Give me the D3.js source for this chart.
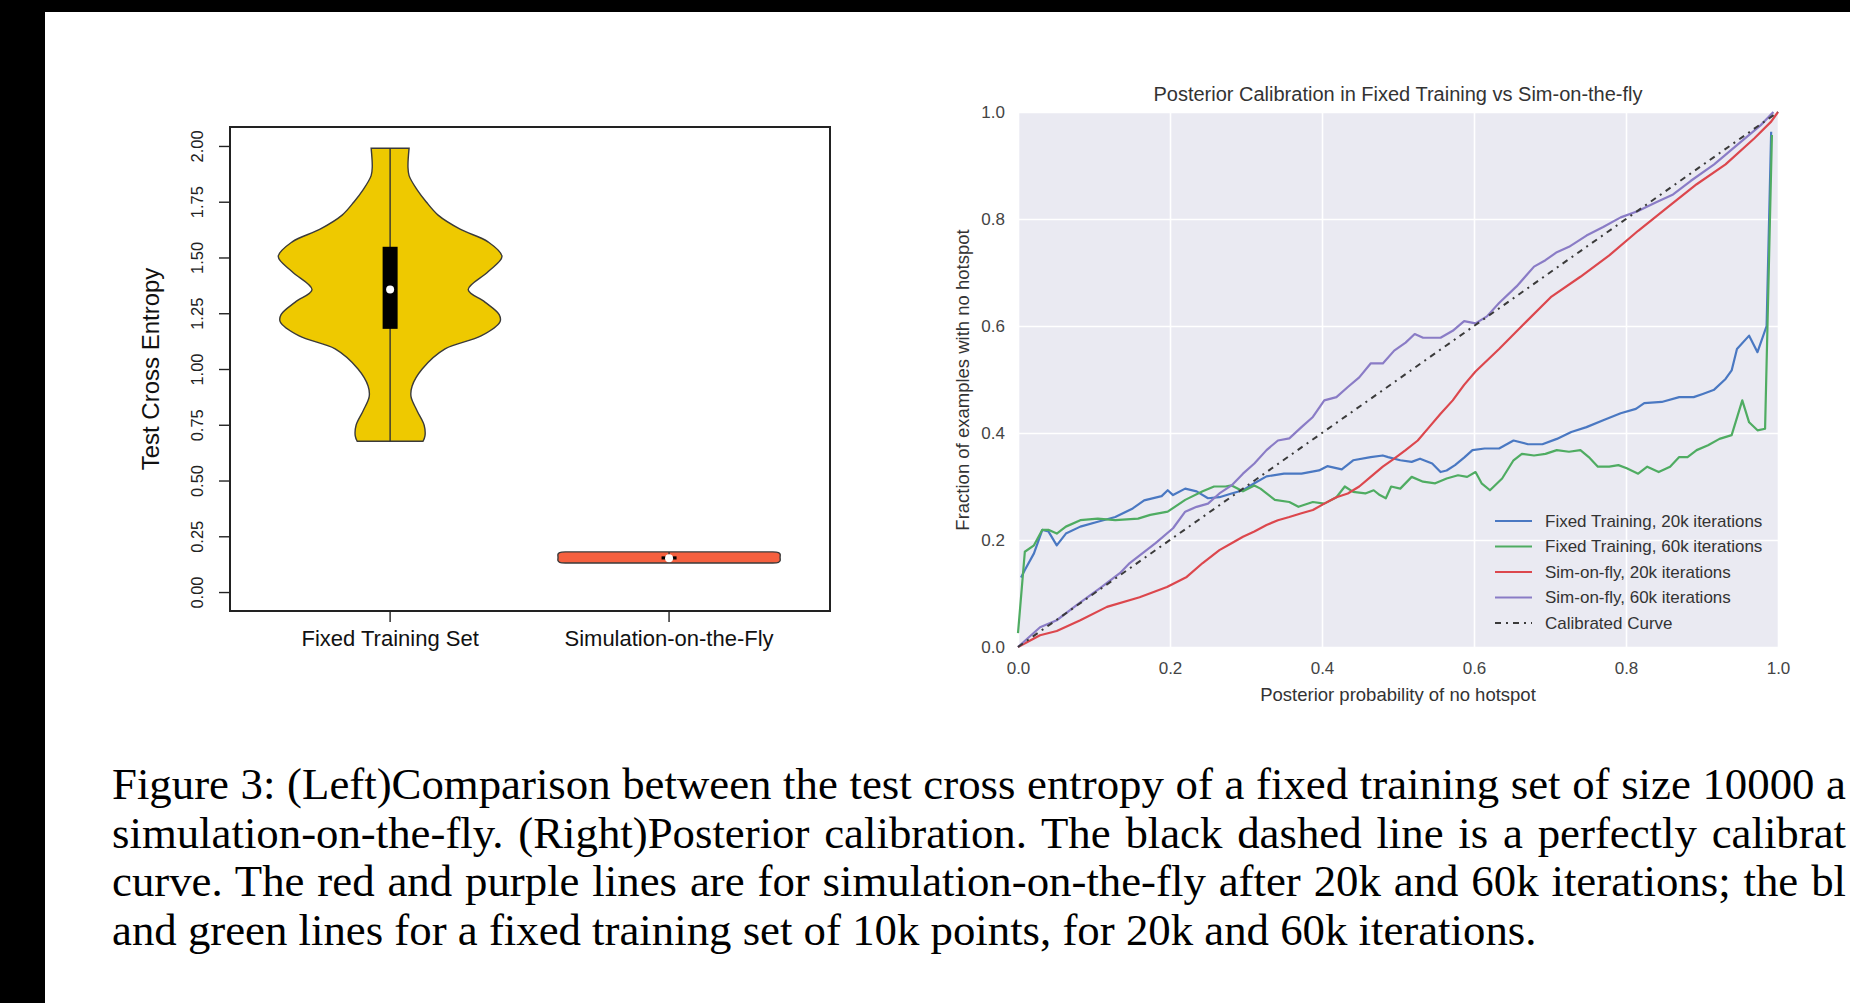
<!DOCTYPE html>
<html>
<head>
<meta charset="utf-8">
<script src="https://cdn.jsdelivr.net/npm/d3@7"></script>
<style>
  body { margin: 0; background: #fff; }
  svg { display: block; }
</style>
</head>
<body>
<div id="figure"></div>
<script>
// ---- left panel: violin plot data ----
const violinCats = ["Fixed Training Set", "Simulation-on-the-Fly"];
const violinColors = ["#EEC900", "#F5603F"];

// profile of each violin: value on y and half width in category units
const fixedVals = [0.676, 0.70, 0.748, 0.812, 0.876, 0.924, 1.00, 1.09, 1.148, 1.212, 1.244, 1.30, 1.356, 1.436, 1.504, 1.57, 1.627, 1.69, 1.75, 1.803, 1.867, 1.907, 1.99];
const fixedHalf = [0.118, 0.125, 0.122, 0.097, 0.075, 0.079, 0.115, 0.197, 0.326, 0.394, 0.391, 0.34, 0.28, 0.351, 0.401, 0.351, 0.251, 0.172, 0.129, 0.097, 0.068, 0.064, 0.068];
const simVals = [0.130, 0.133, 0.140, 0.155, 0.170, 0.177, 0.180];
const simHalf = [0.372, 0.392, 0.398, 0.398, 0.398, 0.392, 0.372];

const whiskLow = [0.676, 0.130];
const whiskHigh = [1.99, 0.180];
const boxLow = [1.18, 0.146];
const boxHigh = [1.548, 0.160];
const medians = [1.356, 0.152];
const leftTicks = [0, 0.25, 0.5, 0.75, 1, 1.25, 1.5, 1.75, 2];

// ---- right panel: calibration curves ----
const blueX = [0.004, 0.009, 0.021, 0.032, 0.040, 0.051, 0.063, 0.082, 0.105, 0.128, 0.151, 0.166, 0.189, 0.197, 0.204, 0.220, 0.235, 0.250, 0.265, 0.281, 0.296, 0.311, 0.327, 0.350, 0.373, 0.396, 0.407, 0.426, 0.441, 0.464, 0.480, 0.487, 0.503, 0.518, 0.529, 0.545, 0.556, 0.564, 0.575, 0.587, 0.598, 0.614, 0.633, 0.652, 0.671, 0.690, 0.709, 0.728, 0.748, 0.770, 0.793, 0.813, 0.824, 0.847, 0.870, 0.889, 0.901, 0.916, 0.931, 0.939, 0.946, 0.962, 0.973, 0.985, 0.991];
const blueY = [0.130, 0.144, 0.175, 0.219, 0.216, 0.190, 0.212, 0.225, 0.234, 0.243, 0.259, 0.274, 0.282, 0.293, 0.284, 0.296, 0.291, 0.278, 0.280, 0.287, 0.293, 0.306, 0.319, 0.324, 0.324, 0.330, 0.338, 0.332, 0.349, 0.355, 0.358, 0.355, 0.349, 0.346, 0.352, 0.343, 0.327, 0.330, 0.340, 0.354, 0.368, 0.371, 0.371, 0.386, 0.379, 0.379, 0.389, 0.402, 0.411, 0.424, 0.437, 0.445, 0.456, 0.458, 0.467, 0.467, 0.473, 0.481, 0.501, 0.517, 0.557, 0.582, 0.551, 0.600, 0.963];

const greenX = [0.000, 0.009, 0.021, 0.032, 0.040, 0.051, 0.063, 0.082, 0.105, 0.128, 0.158, 0.174, 0.197, 0.220, 0.243, 0.258, 0.273, 0.281, 0.296, 0.311, 0.319, 0.338, 0.357, 0.369, 0.388, 0.403, 0.419, 0.430, 0.441, 0.457, 0.468, 0.476, 0.484, 0.491, 0.503, 0.518, 0.533, 0.549, 0.564, 0.579, 0.591, 0.602, 0.610, 0.621, 0.637, 0.652, 0.663, 0.679, 0.694, 0.709, 0.725, 0.740, 0.751, 0.763, 0.778, 0.790, 0.801, 0.816, 0.828, 0.843, 0.858, 0.870, 0.881, 0.893, 0.908, 0.923, 0.939, 0.953, 0.962, 0.973, 0.983, 0.992];
const greenY = [0.026, 0.178, 0.190, 0.219, 0.219, 0.212, 0.225, 0.237, 0.240, 0.237, 0.240, 0.247, 0.253, 0.275, 0.291, 0.300, 0.300, 0.302, 0.291, 0.302, 0.296, 0.275, 0.271, 0.262, 0.271, 0.268, 0.280, 0.300, 0.290, 0.287, 0.293, 0.284, 0.278, 0.300, 0.296, 0.318, 0.309, 0.306, 0.315, 0.321, 0.318, 0.327, 0.306, 0.293, 0.315, 0.349, 0.361, 0.358, 0.361, 0.368, 0.365, 0.368, 0.355, 0.337, 0.337, 0.340, 0.334, 0.324, 0.337, 0.327, 0.337, 0.355, 0.355, 0.368, 0.377, 0.389, 0.396, 0.461, 0.420, 0.405, 0.408, 0.957];

const redX = [0.000, 0.029, 0.051, 0.082, 0.117, 0.160, 0.196, 0.222, 0.243, 0.265, 0.281, 0.296, 0.311, 0.327, 0.342, 0.357, 0.373, 0.388, 0.403, 0.419, 0.434, 0.449, 0.464, 0.480, 0.495, 0.510, 0.526, 0.541, 0.556, 0.572, 0.587, 0.602, 0.633, 0.663, 0.702, 0.740, 0.778, 0.816, 0.855, 0.893, 0.931, 0.969, 0.991, 1.000];
const redY = [0.000, 0.022, 0.030, 0.050, 0.075, 0.093, 0.112, 0.131, 0.157, 0.181, 0.194, 0.206, 0.216, 0.228, 0.237, 0.243, 0.250, 0.256, 0.268, 0.280, 0.287, 0.300, 0.318, 0.337, 0.352, 0.368, 0.386, 0.411, 0.436, 0.461, 0.490, 0.515, 0.557, 0.600, 0.655, 0.692, 0.732, 0.778, 0.822, 0.865, 0.902, 0.951, 0.982, 1.000];

const purpleX = [0.000, 0.029, 0.051, 0.078, 0.108, 0.134, 0.147, 0.181, 0.204, 0.220, 0.235, 0.250, 0.265, 0.281, 0.296, 0.311, 0.327, 0.342, 0.357, 0.373, 0.388, 0.403, 0.419, 0.434, 0.449, 0.464, 0.480, 0.495, 0.510, 0.522, 0.533, 0.556, 0.572, 0.587, 0.602, 0.617, 0.633, 0.656, 0.679, 0.694, 0.709, 0.725, 0.748, 0.770, 0.793, 0.816, 0.839, 0.862, 0.885, 0.916, 0.946, 0.977, 0.994];
const purpleY = [0.000, 0.037, 0.050, 0.079, 0.110, 0.138, 0.157, 0.194, 0.222, 0.253, 0.262, 0.268, 0.287, 0.302, 0.324, 0.343, 0.368, 0.386, 0.390, 0.411, 0.430, 0.461, 0.467, 0.486, 0.504, 0.530, 0.530, 0.554, 0.569, 0.585, 0.578, 0.578, 0.591, 0.609, 0.605, 0.618, 0.643, 0.674, 0.711, 0.723, 0.738, 0.748, 0.769, 0.785, 0.803, 0.815, 0.831, 0.846, 0.871, 0.902, 0.938, 0.975, 1.000];

const calibX = [0, 1];
const calibY = [0, 1];

const seriesNames = ["Fixed Training, 20k iterations", "Fixed Training, 60k iterations", "Sim-on-fly, 20k iterations", "Sim-on-fly, 60k iterations", "Calibrated Curve"];
const seriesColors = ["#4a78c2", "#4fac62", "#dc474d", "#8a7cc6", "#3a3a3a"];
const rightTicks = [0, 0.2, 0.4, 0.6, 0.8, 1.0];

// caption as it shows in the cropped scan (the first three lines run past the right edge)
const captionLines = [
  "Figure 3: (Left)Comparison between the test cross entropy of a fixed training set of size 10000 a",
  "simulation-on-the-fly. (Right)Posterior calibration. The black dashed line is a perfectly calibrat",
  "curve. The red and purple lines are for simulation-on-the-fly after 20k and 60k iterations; the bl",
  "and green lines for a fixed training set of 10k points, for 20k and 60k iterations."
];

const W = 1850, H = 1003;
const svg = d3.select("#figure").append("svg")
    .attr("width", W)
    .attr("height", H);

svg.append("rect").attr("width", W).attr("height", H).attr("fill", "#fff");
// black scan border
svg.append("rect").attr("x", 0).attr("y", 0).attr("width", W).attr("height", 12).attr("fill", "#000");
svg.append("rect").attr("x", 0).attr("y", 0).attr("width", 45).attr("height", H).attr("fill", "#000");

// ================= left: violin =================
let xL = d3.scaleLinear().domain([0.426, 2.577]).range([230, 830]);
let yL = d3.scaleLinear().domain([-0.085, 2.085]).range([611, 127]);

let left = svg.append("g").style("font-family", "'Liberation Sans', Arial, sans-serif");

let profiles = [
  fixedVals.map((v, i) => ({v: v, w: fixedHalf[i]})),
  simVals.map((v, i) => ({v: v, w: simHalf[i]}))
];

profiles.forEach((prof, i) => {
  let c = i + 1;
  let area = d3.area()
      .curve(d3.curveCatmullRom.alpha(0.5))
      .y(d => yL(d.v))
      .x0(d => xL(c - d.w))
      .x1(d => xL(c + d.w));
  left.append("path")
      .attr("d", area(prof))
      .attr("fill", violinColors[i])
      .attr("stroke", "#3a3a3a")
      .attr("stroke-width", 1.4);

  left.append("line")
      .attr("x1", xL(c)).attr("x2", xL(c))
      .attr("y1", yL(whiskLow[i])).attr("y2", yL(whiskHigh[i]))
      .attr("stroke", "#333")
      .attr("stroke-width", 1.4);

  left.append("rect")
      .attr("x", xL(c) - 7.5)
      .attr("width", 15)
      .attr("y", yL(boxHigh[i]))
      .attr("height", yL(boxLow[i]) - yL(boxHigh[i]))
      .attr("fill", "#000");

  left.append("circle")
      .attr("cx", xL(c))
      .attr("cy", yL(medians[i]))
      .attr("r", 4)
      .attr("fill", "#fff");
});

// frame
left.append("rect")
    .attr("x", 230).attr("y", 127)
    .attr("width", 600).attr("height", 484)
    .attr("fill", "none")
    .attr("stroke", "#222")
    .attr("stroke-width", 2);

let yAxisL = left.append("g")
    .attr("transform", "translate(230,0)")
    .call(d3.axisLeft(yL).tickValues(leftTicks).tickFormat(d3.format(".2f")).tickSize(11));
yAxisL.select(".domain").remove();
yAxisL.selectAll("line").attr("stroke", "#222").attr("stroke-width", 1.4);
yAxisL.selectAll("text")
    .attr("transform", "rotate(-90)")
    .attr("x", 0)
    .attr("y", -27)
    .attr("dy", 0)
    .attr("text-anchor", "middle")
    .attr("fill", "#222")
    .style("font-size", "16.5px");

violinCats.forEach((name, i) => {
  left.append("line")
      .attr("x1", xL(i + 1)).attr("x2", xL(i + 1))
      .attr("y1", 611).attr("y2", 622)
      .attr("stroke", "#222").attr("stroke-width", 1.4);
  left.append("text")
      .attr("x", xL(i + 1))
      .attr("y", 646)
      .attr("text-anchor", "middle")
      .attr("fill", "#111")
      .style("font-size", "22px")
      .text(name);
});

left.append("text")
    .attr("transform", "translate(159,369) rotate(-90)")
    .attr("text-anchor", "middle")
    .attr("fill", "#111")
    .style("font-size", "24px")
    .text("Test Cross Entropy");

// ================= right: calibration =================
let xR = d3.scaleLinear().domain([0, 1]).range([1018, 1778]);
let yR = d3.scaleLinear().domain([0, 1]).range([647, 112]);

let right = svg.append("g").style("font-family", "'Liberation Sans', Arial, sans-serif");

right.append("rect")
    .attr("x", 1018).attr("y", 112)
    .attr("width", 760).attr("height", 535)
    .attr("fill", "#EAEAF2");

let gx = right.append("g")
    .attr("transform", "translate(0,647)")
    .call(d3.axisBottom(xR).tickValues(rightTicks).tickFormat(d3.format(".1f")).tickSize(-535));
gx.select(".domain").remove();
gx.selectAll("line").attr("stroke", "#fff").attr("stroke-width", 1.6);
gx.selectAll("text")
    .attr("y", 27).attr("dy", 0)
    .attr("fill", "#444")
    .style("font-size", "17px");

let gy = right.append("g")
    .attr("transform", "translate(1018,0)")
    .call(d3.axisLeft(yR).tickValues(rightTicks).tickFormat(d3.format(".1f")).tickSize(-760));
gy.select(".domain").remove();
gy.selectAll("line").attr("stroke", "#fff").attr("stroke-width", 1.6);
gy.selectAll("text")
    .attr("x", -13)
    .attr("fill", "#444")
    .style("font-size", "17px");

let lineGen = d3.line()
    .x(d => xR(d[0]))
    .y(d => yR(d[1]));

let series = [
  d3.zip(blueX, blueY),
  d3.zip(greenX, greenY),
  d3.zip(redX, redY),
  d3.zip(purpleX, purpleY),
  d3.zip(calibX, calibY)
];

series.forEach((pts, i) => {
  let p = right.append("path")
      .attr("d", lineGen(pts))
      .attr("fill", "none")
      .attr("stroke", seriesColors[i])
      .attr("stroke-width", i == 4 ? 2 : 2.2)
      .attr("stroke-linejoin", "round");
  if (i == 4) p.attr("stroke-dasharray", "6,5,2,5");
});

// legend
let legendY = [521, 546.5, 572, 597.5, 623];
seriesNames.forEach((name, i) => {
  right.append("line")
      .attr("x1", 1495).attr("x2", 1532)
      .attr("y1", legendY[i]).attr("y2", legendY[i])
      .attr("stroke", seriesColors[i])
      .attr("stroke-width", 2.2)
      .attr("stroke-dasharray", i == 4 ? "6,5,2,5" : null);
  right.append("text")
      .attr("x", 1545)
      .attr("y", legendY[i])
      .attr("dy", "0.35em")
      .attr("fill", "#333")
      .style("font-size", "17px")
      .text(name);
});

right.append("text")
    .attr("x", 1398).attr("y", 101)
    .attr("text-anchor", "middle")
    .attr("fill", "#333")
    .style("font-size", "20px")
    .text("Posterior Calibration in Fixed Training vs Sim-on-the-fly");

right.append("text")
    .attr("x", 1398).attr("y", 701)
    .attr("text-anchor", "middle")
    .attr("fill", "#333")
    .style("font-size", "18.5px")
    .text("Posterior probability of no hotspot");

right.append("text")
    .attr("transform", "translate(969,380) rotate(-90)")
    .attr("text-anchor", "middle")
    .attr("fill", "#333")
    .style("font-size", "18.5px")
    .text("Fraction of examples with no hotspot");

// ================= caption =================
let caption = svg.append("g")
    .selectAll("text")
    .data(captionLines)
    .join("text")
    .attr("x", 112)
    .attr("y", (d, i) => 799 + i * 48.5)
    .attr("fill", "#000")
    .style("font-family", "'Liberation Serif', 'Times New Roman', serif")
    .style("font-size", "44.8px")
    .text(d => d);

// justified lines: spread the words so the visible part reaches the edge
caption.each(function(d, i) {
  if (i == 3) return;
  let len = this.getComputedTextLength();
  let gaps = d.split(" ").length - 1;
  let ws = (1846 - 112 - len) / gaps;
  d3.select(this).attr("word-spacing", ws);
});
</script>
</body>
</html>
